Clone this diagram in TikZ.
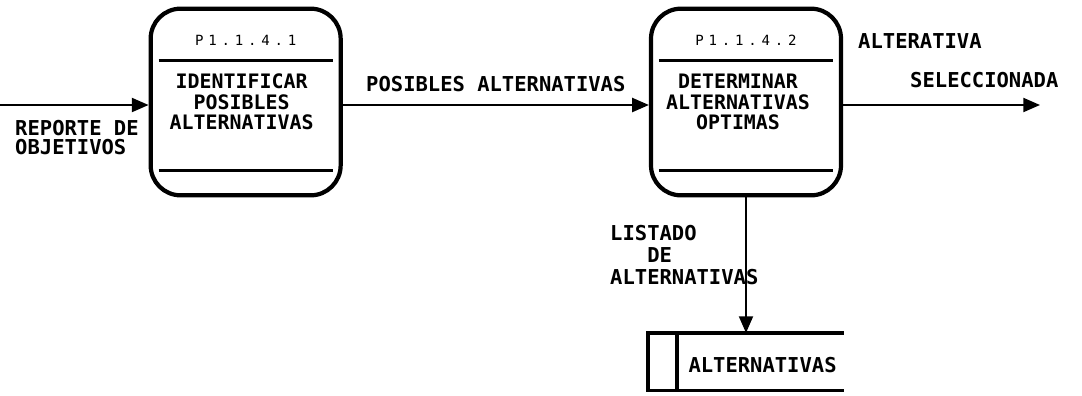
\documentclass[tikz,border=0pt]{standalone}
\usepackage{fontspec}
\newfontfamily\plotfont{DejaVu Sans Mono}
\newfontfamily\idfont[LetterSpace=34]{DejaVu Sans Mono}
\usetikzlibrary{arrows.meta,positioning,calc}
\tikzset{
  proc/.style={rounded corners=0.9cm, draw, line width=3.6pt,
               minimum width=5.7cm, minimum height=5.6cm},
  ptext/.style={align=center, inner sep=0pt, font=\plotfont\bfseries\fontsize{17}{17.5}\selectfont},
  pid/.style={inner sep=0pt, font=\idfont\fontsize{12}{12}\selectfont},
  sepline/.style={line width=2.2pt},
  flow/.style={-{Triangle[length=0.5cm,width=0.42cm]}, line width=1.7pt},
  lbl/.style={align=left, inner sep=0pt, font=\plotfont\bfseries\fontsize{17.5}{16.2}\selectfont},
  lbltall/.style={lbl, font=\plotfont\bfseries\fontsize{17.5}{18.7}\selectfont},
  storeline/.style={line width=3.2pt},
}
\begin{document}
\begin{tikzpicture}
  \useasboundingbox (0,0) rectangle (32.46,-11.85);
  % processes
  \node[proc] (p1) at (7.37,-3.06) {};
  \node[proc] (p2) at (22.38,-3.06) {};
  \foreach \p/\pcode in {p1/{P1.1.4.1}, p2/{P1.1.4.2}}{
    \node[pid] (\p code) at ($(\p.north)+(0,-1.0)$) {\pcode};
    \draw[sepline] ($(\p.north west)+(0.3,-1.62)$) -- ($(\p.north east)+(-0.3,-1.62)$);
    \draw[sepline] ($(\p.south west)+(0.3,0.81)$) -- ($(\p.south east)+(-0.3,0.81)$);
  }
  \node[ptext] (p1txt) at ($(p1)+(-0.12,0.0)$) {IDENTIFICAR\\POSIBLES\\ALTERNATIVAS};
  \node[ptext] (p2txt) at ($(p2)+(-0.24,0.0)$) {DETERMINAR\\ALTERNATIVAS\\OPTIMAS};
  % data store
  \node[minimum width=5.85cm, minimum height=1.71cm, inner sep=0pt] (ds) at (22.38,-10.85) {};
  \draw[storeline] (ds.north east) -- (ds.north west) -- (ds.south west) -- (ds.south east);
  \draw[storeline] ($(ds.north west)+(0.87,0)$) -- ($(ds.south west)+(0.87,0)$);
  \node[lbl, anchor=west] (dstxt) at ($(ds.west)+(1.2,-0.1)$) {ALTERNATIVAS};
  % flows
  \coordinate (src) at (0,-3.15);
  \coordinate (sink) at (31.2,-3.15);
  \draw[flow] (src) -- (p1.west |- src);
  \draw[flow] (p1.east |- src) -- node[lbl, above=0.37cm] (posalt) {POSIBLES ALTERNATIVAS} (p2.west |- src);
  \draw[flow] (p2.east |- src) -- (sink);
  \draw[flow] (p2.south) -- (ds.north);
  % labels
  \node[lbl, anchor=north west] (rep) at (0.45,-3.6) {REPORTE DE\\OBJETIVOS};
  \node[lbl, anchor=base west] (alt) at (25.74,-1.44) {ALTERATIVA};
  \node[lbl, anchor=base west] (sel) at (27.3,-2.61) {SELECCIONADA};
  \node[lbltall, anchor=north west] (list) at (18.3,-6.75) {LISTADO\\\phantom{LIS}DE\\ALTERNATIVAS};
\end{tikzpicture}
\end{document}
